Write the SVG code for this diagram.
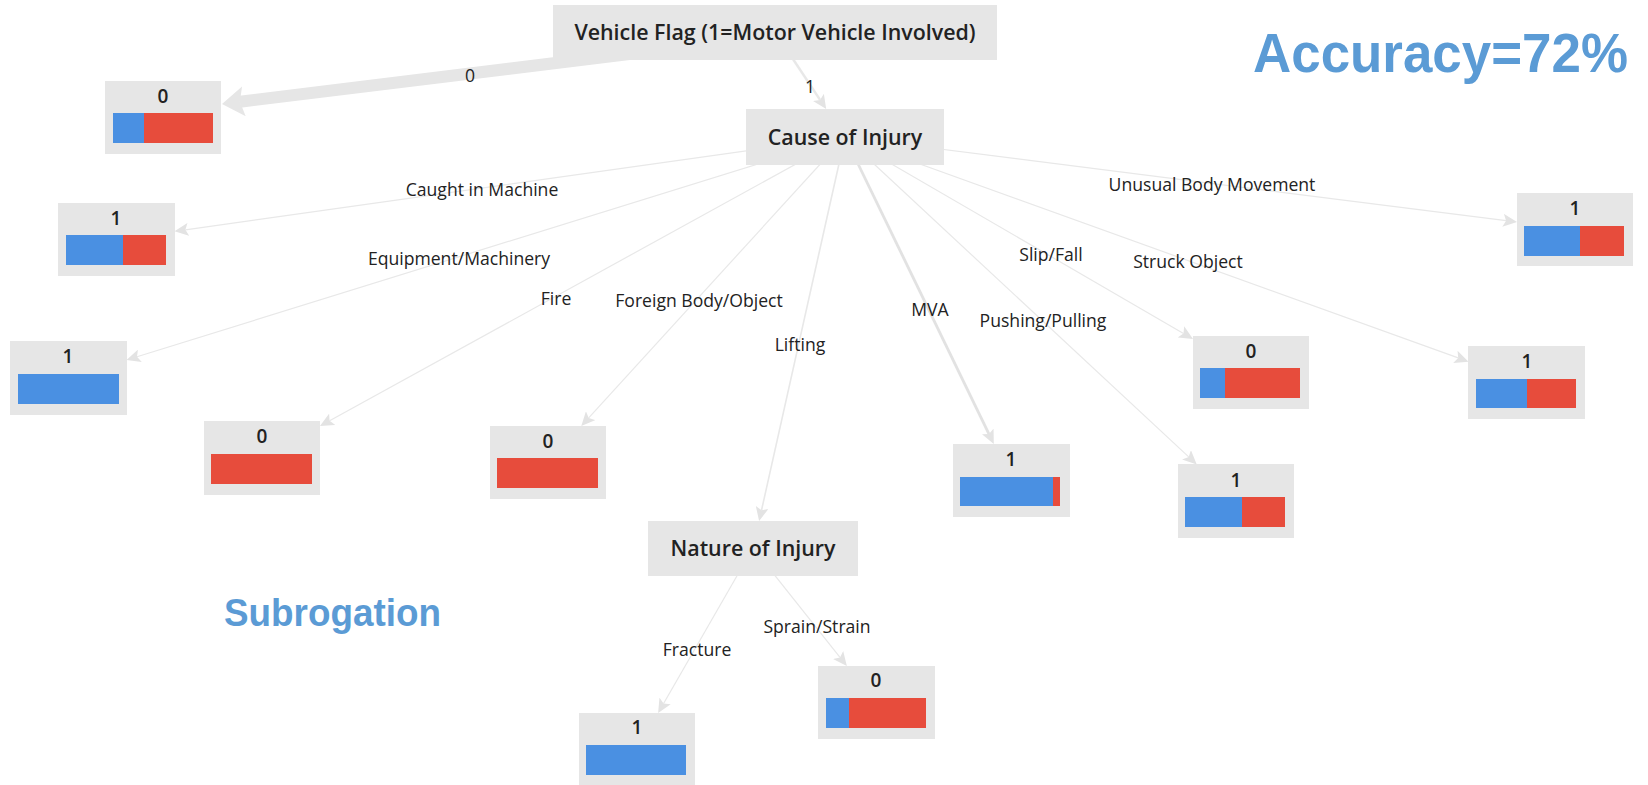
<svg xmlns="http://www.w3.org/2000/svg" width="1648" height="785" viewBox="0 0 1648 785">
<style>
.bg{fill:#ffffff}
.node{fill:#e6e6e6}
.title{font-family:"Open Sans","Liberation Sans",sans-serif;font-weight:600;font-size:21.4px;fill:#222;text-anchor:middle}
.num{font-family:"Open Sans","Liberation Sans",sans-serif;font-weight:600;font-size:19px;fill:#222;text-anchor:middle}
.lbl{font-family:"Open Sans","Liberation Sans",sans-serif;font-size:17.6px;fill:#222;text-anchor:middle}
.edge{stroke:#e8e8e8;fill:none;stroke-width:1.2}
.blue{fill:#4a90e2}
.red{fill:#e74c3c}
.big{font-family:"Liberation Sans",Arial,sans-serif;font-weight:bold;fill:#5b9bd5}
</style>
<defs>
<marker id="arr" markerUnits="userSpaceOnUse" markerWidth="14" markerHeight="13" viewBox="0 0 14 13" refX="3" refY="6.5" orient="auto">
<path d="M0,0 L14,6.5 L0,13 L3,6.5 z" fill="#e3e3e3"/>
</marker>
<marker id="arrBig" markerUnits="userSpaceOnUse" markerWidth="22" markerHeight="30" viewBox="0 0 22 30" refX="4" refY="15" orient="auto">
<path d="M0,0 L22,15 L0,30 L4,15 z" fill="#e6e6e6"/>
</marker>
</defs>
<rect class="bg" x="0" y="0" width="1648" height="785"/>

<g id="connectors">
<line x1="775" y1="36" x2="239.9" y2="101.8" stroke="#e6e6e6" stroke-width="12" marker-end="url(#arrBig)"/>
<line class="edge" x1="775" y1="32" x2="820.1" y2="99.9" style="stroke-width:2.5" marker-end="url(#arr)"/>
<line class="edge" x1="845" y1="137" x2="185.4" y2="229.8" marker-end="url(#arr)"/>
<line class="edge" x1="845" y1="137" x2="137" y2="356.7" marker-end="url(#arr)"/>
<line class="edge" x1="845" y1="137" x2="329.6" y2="420.8" marker-end="url(#arr)"/>
<line class="edge" x1="845" y1="137" x2="588.7" y2="417.9" marker-end="url(#arr)"/>
<line class="edge" x1="845" y1="137" x2="761.5" y2="510.3" style="stroke-width:1.6" marker-end="url(#arr)"/>
<line class="edge" x1="845" y1="137" x2="989" y2="434.1" style="stroke-width:2.8;stroke:#e2e2e2" marker-end="url(#arr)"/>
<line class="edge" x1="845" y1="137" x2="1188.7" y2="456.9" marker-end="url(#arr)"/>
<line class="edge" x1="845" y1="137" x2="1183.5" y2="333.4" marker-end="url(#arr)"/>
<line class="edge" x1="845" y1="137" x2="1458.2" y2="357.9" marker-end="url(#arr)"/>
<line class="edge" x1="845" y1="137" x2="1506.1" y2="220.7" marker-end="url(#arr)"/>
<line class="edge" x1="753" y1="548" x2="663.6" y2="703.5" marker-end="url(#arr)"/>
<line class="edge" x1="753" y1="548" x2="840" y2="657.4" marker-end="url(#arr)"/>
<text class="lbl" x="470" y="82">0</text>
<text class="lbl" x="810" y="93">1</text>
<text class="lbl" x="482" y="196">Caught in Machine</text>
<text class="lbl" x="459" y="265">Equipment/Machinery</text>
<text class="lbl" x="556" y="305">Fire</text>
<text class="lbl" x="699" y="307">Foreign Body/Object</text>
<text class="lbl" x="800" y="351">Lifting</text>
<text class="lbl" x="930" y="316">MVA</text>
<text class="lbl" x="1043" y="327">Pushing/Pulling</text>
<text class="lbl" x="1051" y="261">Slip/Fall</text>
<text class="lbl" x="1188" y="268">Struck Object</text>
<text class="lbl" x="1212" y="191">Unusual Body Movement</text>
<text class="lbl" x="697" y="656">Fracture</text>
<text class="lbl" x="817" y="633">Sprain/Strain</text>
</g>

<g id="n-vehicle">
<rect class="node" x="553" y="5" width="444" height="55"/>
<text class="title" x="775" y="40">Vehicle Flag (1=Motor Vehicle Involved)</text>
</g>
<g id="n-cause">
<rect class="node" x="746" y="109" width="198" height="56"/>
<text class="title" x="845" y="145">Cause of Injury</text>
</g>
<g id="n-nature">
<rect class="node" x="648" y="521" width="210" height="55"/>
<text class="title" x="753" y="556">Nature of Injury</text>
</g>

<g id="leaf-vehicle0">
<rect class="node" x="105" y="81" width="116" height="73"/>
<text class="num" x="163" y="103">0</text>
<rect class="red" x="113" y="113" width="100" height="30"/>
<rect class="blue" x="113" y="113" width="31" height="30"/>
</g>
<g id="leaf-caught">
<rect class="node" x="58" y="203" width="117" height="73"/>
<text class="num" x="116" y="225">1</text>
<rect class="red" x="66" y="235" width="100" height="30"/>
<rect class="blue" x="66" y="235" width="57" height="30"/>
</g>
<g id="leaf-equipment">
<rect class="node" x="10" y="341" width="117" height="74"/>
<text class="num" x="68" y="363">1</text>
<rect class="blue" x="18" y="374" width="101" height="30"/>
</g>
<g id="leaf-fire">
<rect class="node" x="204" y="421" width="116" height="74"/>
<text class="num" x="262" y="443">0</text>
<rect class="red" x="211" y="454" width="101" height="30"/>
</g>
<g id="leaf-foreign">
<rect class="node" x="490" y="426" width="116" height="73"/>
<text class="num" x="548" y="448">0</text>
<rect class="red" x="497" y="458" width="101" height="30"/>
</g>
<g id="leaf-mva">
<rect class="node" x="953" y="444" width="117" height="73"/>
<text class="num" x="1011" y="466">1</text>
<rect class="red" x="960" y="477" width="100" height="29"/>
<rect class="blue" x="960" y="477" width="93" height="29"/>
</g>
<g id="leaf-pushing">
<rect class="node" x="1178" y="464" width="116" height="74"/>
<text class="num" x="1236" y="487">1</text>
<rect class="red" x="1185" y="497" width="100" height="30"/>
<rect class="blue" x="1185" y="497" width="57" height="30"/>
</g>
<g id="leaf-slip">
<rect class="node" x="1193" y="336" width="116" height="73"/>
<text class="num" x="1251" y="358">0</text>
<rect class="red" x="1200" y="368" width="100" height="30"/>
<rect class="blue" x="1200" y="368" width="25" height="30"/>
</g>
<g id="leaf-struck">
<rect class="node" x="1468" y="346" width="117" height="73"/>
<text class="num" x="1527" y="368">1</text>
<rect class="red" x="1476" y="379" width="100" height="29"/>
<rect class="blue" x="1476" y="379" width="51" height="29"/>
</g>
<g id="leaf-unusual">
<rect class="node" x="1517" y="193" width="116" height="73"/>
<text class="num" x="1575" y="215">1</text>
<rect class="red" x="1524" y="226" width="100" height="30"/>
<rect class="blue" x="1524" y="226" width="56" height="30"/>
</g>
<g id="leaf-fracture">
<rect class="node" x="579" y="713" width="116" height="73"/>
<text class="num" x="637" y="734">1</text>
<rect class="blue" x="586" y="745" width="100" height="30"/>
</g>
<g id="leaf-sprain">
<rect class="node" x="818" y="666" width="117" height="73"/>
<text class="num" x="876" y="687">0</text>
<rect class="red" x="826" y="698" width="100" height="30"/>
<rect class="blue" x="826" y="698" width="23" height="30"/>
</g>

<text class="big" x="224" y="626" font-size="38" textLength="217" lengthAdjust="spacingAndGlyphs">Subrogation</text>
<text class="big" x="1253" y="72" font-size="55" textLength="375" lengthAdjust="spacingAndGlyphs">Accuracy=72%</text>
</svg>
